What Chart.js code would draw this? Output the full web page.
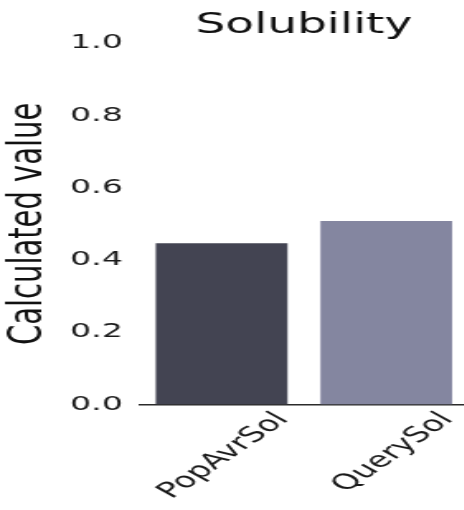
<!DOCTYPE html>
<html><head><meta charset="utf-8">
<script src="https://cdn.jsdelivr.net/npm/chart.js@4/dist/chart.umd.min.js"></script>
<style>
html,body{margin:0;padding:0;background:#fff;overflow:hidden;width:464px;height:510px}
#wrap{width:284px;height:510px;transform:scaleX(1.65);transform-origin:0 0}
</style></head><body>
<div id="wrap"><canvas id="c" width="284" height="510"></canvas></div>
<script>
const categories = ['PopAvrSol', 'QuerySol'];
const values = [0.446, 0.508];
const barColors = ['#434452', '#8486a0'];
const yTicks = [0.0, 0.2, 0.4, 0.6, 0.8, 1.0];
const titleText = 'Solubility';
const yLabel = 'Calculated value';

const FONT = "'DejaVu Sans', sans-serif";

new Chart(document.getElementById('c'), {
  type: 'bar',
  data: {
    labels: categories,
    datasets: [{
      data: values,
      backgroundColor: barColors,
      borderWidth: 0,
      barPercentage: 0.8,
      categoryPercentage: 1.0
    }]
  },
  options: {
    responsive: false,
    animation: false,
    devicePixelRatio: 1,
    layout: { padding: 0 },
    plugins: {
      legend: { display: false },
      tooltip: { enabled: false },
      title: {
        display: true,
        text: titleText,
        fullSize: false,
        color: '#111',
        font: { family: FONT, size: 28.5, weight: 'normal' },
        padding: { top: 8, bottom: 1 }
      }
    },
    scales: {
      x: {
        grid: { display: false, drawTicks: false },
        border: { display: true, color: '#2b2b2b', width: 1.5 },
        ticks: {
          color: '#1a1a1a',
          font: { family: FONT, size: 21.5 },
          maxRotation: 48,
          minRotation: 48,
          labelOffset: 37,
          padding: 3
        },
        afterFit: s => { s.height = 105.5; s.paddingLeft = 0; s.paddingRight = 0; }
      },
      y: {
        min: 0,
        max: 1,
        grid: { display: false, drawTicks: false },
        border: { display: false },
        afterBuildTicks: s => { s.ticks = yTicks.map(v => ({ value: v })); },
        ticks: {
          color: '#1a1a1a',
          font: { family: FONT, size: 20 },
          padding: 10,
          callback: v => Number(v).toFixed(1)
        },
        title: {
          display: true,
          text: yLabel,
          color: '#111',
          font: { family: FONT, size: 29 },
          padding: { top: 0, bottom: 0 }
        },
        afterFit: s => { s.width = 84.4; }
      }
    }
  }
});
</script>
</body></html>
